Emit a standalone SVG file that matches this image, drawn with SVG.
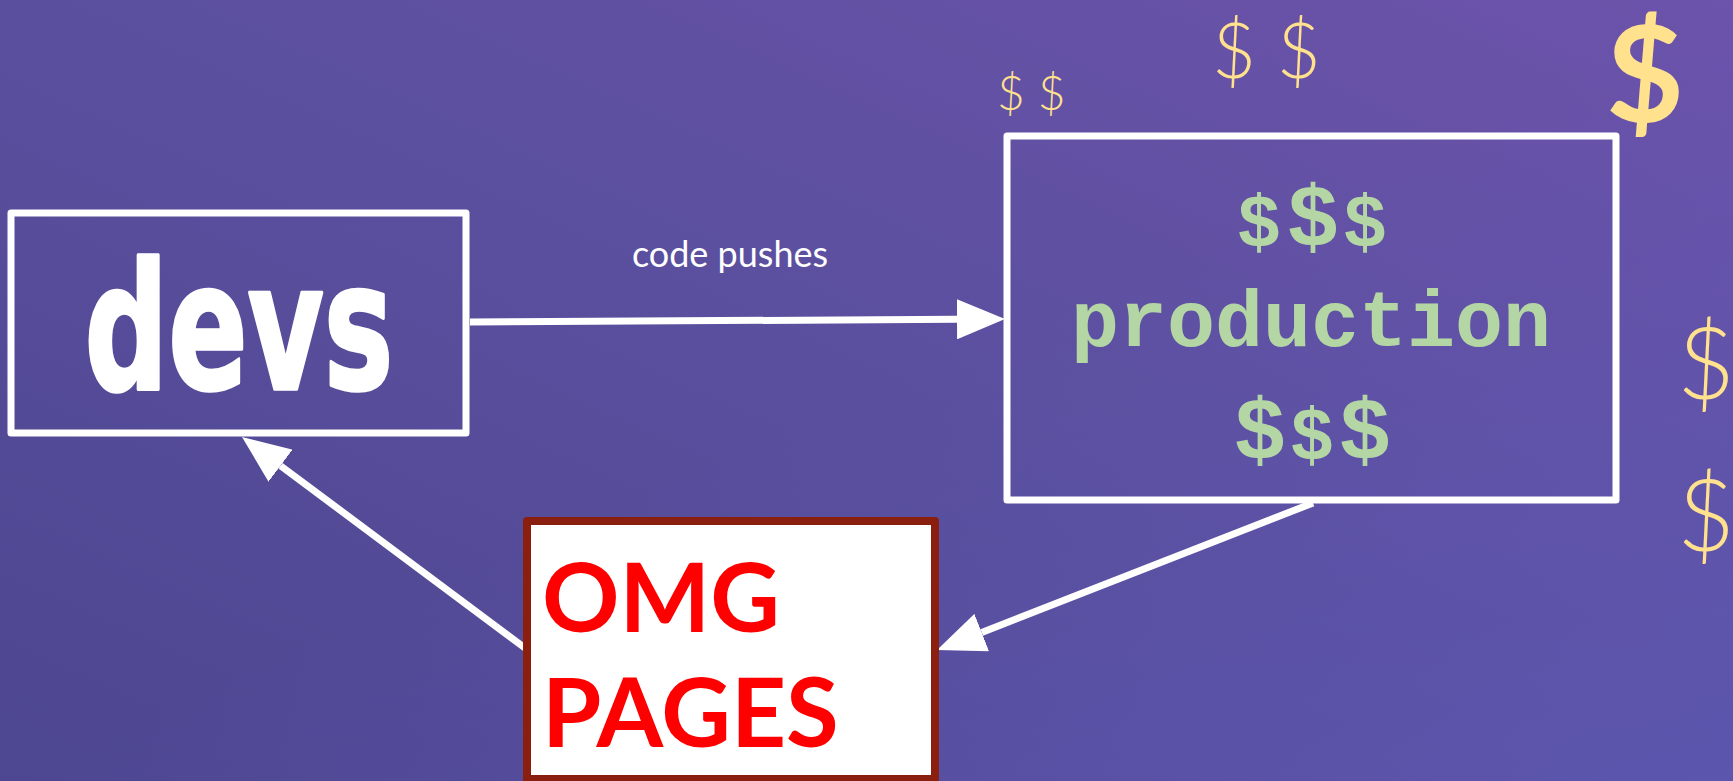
<svg xmlns="http://www.w3.org/2000/svg" width="1733" height="781" viewBox="0 0 1733 781">
  <defs>
    <linearGradient id="bg" x1="0" y1="1" x2="1" y2="0">
      <stop offset="0" stop-color="#4d4690"/>
      <stop offset="0.5" stop-color="#5a4f9e"/>
      <stop offset="1" stop-color="#6c53ab"/>
    </linearGradient>
    <linearGradient id="bg2" x1="0" y1="0" x2="1" y2="1">
      <stop offset="0.5" stop-color="#5e5ab8" stop-opacity="0"/>
      <stop offset="1" stop-color="#5e5ab8" stop-opacity="0.6"/>
    </linearGradient>
    <marker id="arrow" viewBox="0 0 48 40" markerWidth="48" markerHeight="40" refX="0" refY="20" orient="auto" markerUnits="userSpaceOnUse">
      <path d="M0,0 L48,20 L0,40 Z" fill="#ffffff"/>
    </marker>
    <style>
      .box { fill: none; stroke: #ffffff; stroke-width: 7; stroke-linejoin: round; }
      .conn { stroke: #ffffff; stroke-width: 7; fill: none; marker-end: url(#arrow); }
      .money { fill: #ffe18e; font-family: Lato, "Liberation Sans", sans-serif; }
      .prod { fill: #b3d6a4; font-family: "Liberation Mono", "Courier New", monospace; font-weight: bold; text-anchor: middle; }
    </style>
  </defs>
  <rect x="0" y="0" width="1733" height="781" fill="url(#bg)"/>
  <rect x="0" y="0" width="1733" height="781" fill="url(#bg2)"/>

  <g id="connectors">
    <line class="conn" x1="470" y1="322" x2="957" y2="319.3"/>
    <line class="conn" x1="1313" y1="503" x2="981.7" y2="632.5"/>
    <line class="conn" x1="525" y1="648" x2="280.5" y2="465.7"/>
    <text x="730" y="267" fill="#ffffff" font-family="Lato, 'Liberation Sans', sans-serif" font-size="36" text-anchor="middle">code pushes</text>
  </g>

  <g id="devs">
    <rect class="box" x="11" y="213" width="455" height="220"/>
    <text transform="translate(239,389) scale(0.78,1.18)" x="0" y="0" fill="#ffffff" stroke="#ffffff" stroke-width="3" stroke-linejoin="round" font-family="'DejaVu Sans', sans-serif" font-weight="bold" font-size="150" text-anchor="middle">devs</text>
  </g>

  <g id="production">
    <rect class="box" x="1007" y="136" width="609" height="364"/>
    <text class="prod" y="246"><tspan x="1259" font-size="74">$</tspan><tspan x="1313" font-size="88">$</tspan><tspan x="1365" font-size="74">$</tspan></text>
    <text class="prod" x="1311" y="346" font-size="80">production</text>
    <text class="prod" y="459"><tspan x="1260" font-size="88">$</tspan><tspan x="1312" font-size="74">$</tspan><tspan x="1365" font-size="88">$</tspan></text>
  </g>

  <g id="omg-pages">
    <rect x="527" y="521" width="408" height="258" fill="#ffffff" stroke="#8a1f0f" stroke-width="8" stroke-linejoin="round"/>
    <text fill="#ff0000" font-family="Lato, 'Liberation Sans', sans-serif" font-weight="bold" font-size="96">
      <tspan x="542" y="632">OMG</tspan>
      <tspan x="542" y="747">PAGES</tspan>
    </text>
  </g>

  <g id="money">
    <text class="money" x="997" y="110" font-size="48" font-weight="300">$ $</text>
    <text class="money" x="1212" y="78" font-size="76" font-weight="300">$ $</text>
    <text class="money" x="1645" y="122" font-size="135" font-weight="bold" text-anchor="middle">$</text>
    <text class="money" x="1706" y="399" font-size="100" font-weight="300" text-anchor="middle">$</text>
    <text class="money" x="1706" y="551" font-size="100" font-weight="300" text-anchor="middle">$</text>
  </g>
</svg>
